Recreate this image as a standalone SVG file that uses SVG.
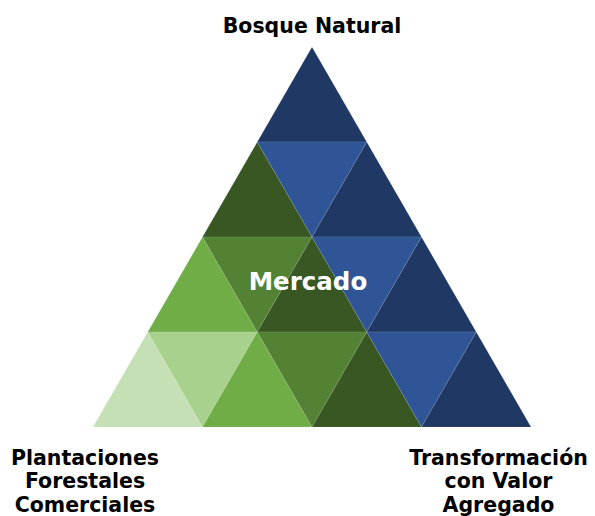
<svg xmlns="http://www.w3.org/2000/svg" width="595" height="516" viewBox="0 0 595 516">
<style>
.t{stroke:#ffffff;stroke-opacity:0.12;stroke-width:0.8;stroke-linejoin:round}
.navy{fill:#203864}.blue{fill:#2F5597}.dg{fill:#385723}.mg{fill:#548235}.g{fill:#70AD47}.lg{fill:#A9D18E}.xg{fill:#C5E0B4}
.lbl{font-family:"DejaVu Sans","Verdana",sans-serif;font-weight:bold;font-size:20.5px;fill:#000000;text-anchor:middle}
.mk{font-family:"DejaVu Sans","Verdana",sans-serif;font-weight:bold;font-size:24.5px;fill:#ffffff;text-anchor:middle}
</style>
<rect width="595" height="516" fill="#ffffff"/>
<g id="pyramid">
<!-- row 1 -->
<polygon class="t navy" points="312,47 257.25,142 366.75,142"/>
<!-- row 2 -->
<polygon class="t dg" points="257.25,142 202.5,237 312,237"/>
<polygon class="t blue" points="257.25,142 366.75,142 312,237"/>
<polygon class="t navy" points="366.75,142 312,237 421.5,237"/>
<!-- row 3 -->
<polygon class="t g" points="202.5,237 147.75,332 257.25,332"/>
<polygon class="t mg" points="202.5,237 312,237 257.25,332"/>
<polygon class="t dg" points="312,237 257.25,332 366.75,332"/>
<polygon class="t blue" points="312,237 421.5,237 366.75,332"/>
<polygon class="t navy" points="421.5,237 366.75,332 476.25,332"/>
<!-- row 4 -->
<polygon class="t xg" points="147.75,332 93,427 202.5,427"/>
<polygon class="t lg" points="147.75,332 257.25,332 202.5,427"/>
<polygon class="t g" points="257.25,332 202.5,427 312,427"/>
<polygon class="t mg" points="257.25,332 366.75,332 312,427"/>
<polygon class="t dg" points="366.75,332 312,427 421.5,427"/>
<polygon class="t blue" points="366.75,332 476.25,332 421.5,427"/>
<polygon class="t navy" points="476.25,332 421.5,427 531,427"/>
</g>
<g id="mercado"><text class="mk" x="308" y="289.5">Mercado</text></g>
<g id="bosque"><text class="lbl" x="312" y="33">Bosque Natural</text></g>
<g id="plantaciones"><text class="lbl" x="85" y="464.5">Plantaciones<tspan x="85" y="488">Forestales</tspan><tspan x="85" y="511.5">Comerciales</tspan></text></g>
<g id="transformacion"><text class="lbl" x="498.5" y="464.5">Transformación<tspan x="498.5" y="488">con Valor</tspan><tspan x="498.5" y="511.5">Agregado</tspan></text></g>
<g id="connectors"></g>
</svg>
